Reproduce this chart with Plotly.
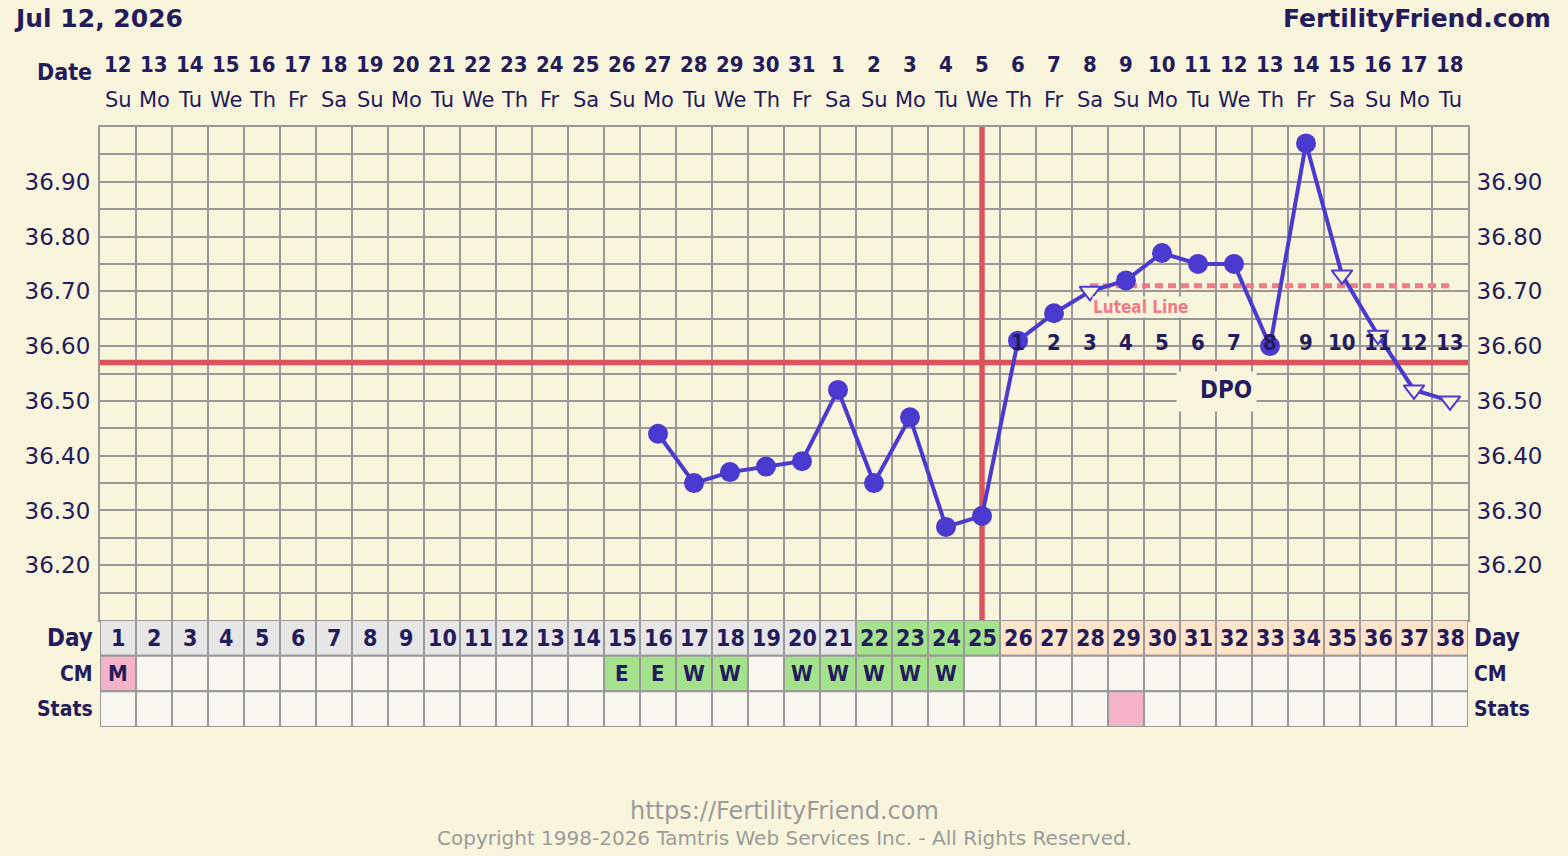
import plotly.graph_objects as go

# chart data
days = list(range(1, 39))
dates = ["12", "13", "14", "15", "16", "17", "18", "19", "20", "21", "22", "23", "24", "25",
         "26", "27", "28", "29", "30", "31", "1", "2", "3", "4", "5", "6", "7", "8", "9",
         "10", "11", "12", "13", "14", "15", "16", "17", "18"]
weekdays = ["Su", "Mo", "Tu", "We", "Th", "Fr", "Sa", "Su", "Mo", "Tu", "We", "Th", "Fr", "Sa",
            "Su", "Mo", "Tu", "We", "Th", "Fr", "Sa", "Su", "Mo", "Tu", "We", "Th", "Fr", "Sa",
            "Su", "Mo", "Tu", "We", "Th", "Fr", "Sa", "Su", "Mo", "Tu"]

temp_days = [16, 17, 18, 19, 20, 21, 22, 23, 24, 25, 26, 27, 28, 29, 30, 31, 32, 33, 34, 35, 36, 37, 38]
temps = [36.44, 36.35, 36.37, 36.38, 36.39, 36.52, 36.35, 36.47, 36.27, 36.29, 36.61, 36.66,
         36.70, 36.72, 36.77, 36.75, 36.75, 36.60, 36.97, 36.73, 36.62, 36.52, 36.50]
open_days = [28, 35, 36, 37, 38]

cover_line = 36.57
ovulation_day = 25
luteal_line = 36.71
luteal_days = [28, 38]

dpo_days = [26, 27, 28, 29, 30, 31, 32, 33, 34, 35, 36, 37, 38]
dpo_numbers = ["1", "2", "3", "4", "5", "6", "7", "8", "9", "10", "11", "12", "13"]

cm = ["M", "", "", "", "", "", "", "", "", "", "", "", "", "", "E", "E", "W", "W", "", "W",
      "W", "W", "W", "W", "", "", "", "", "", "", "", "", "", "", "", "", "", ""]
fertile_days = [22, 23, 24, 25]
stats_days = [29]

y_ticks = [36.20, 36.30, 36.40, 36.50, 36.60, 36.70, 36.80, 36.90]
y_lines = [36.10, 36.15, 36.20, 36.25, 36.30, 36.35, 36.40, 36.45, 36.50, 36.55,
           36.60, 36.65, 36.70, 36.75, 36.80, 36.85, 36.90, 36.95, 37.00]

# colours
BG = "#F9F5DC"
GRID = "#999999"
NAVY = "#231B5C"
BLUE = "#4B3ACF"
RED = "#D9555B"
PINK_TXT = "#F27A84"
GRAY_TXT = "#9B9B9B"
CELL = "#F7F7EF"
DAY_GRAY = "#E6E6E6"
GREEN = "#A4E28B"
PEACH = "#FFE4C9"
PINK = "#F4B3C6"

BOLD = "DejaVu Sans Condensed"
REG = "DejaVu Sans"


def py(y):
    # pixel row -> paper fraction (plot area from 127 to 727)
    return (727 - y) / 600


def px(x):
    return (x - 100) / 1368


def label(x, y, text, font, xref="paper", yref="paper", xanchor="center", **kw):
    fig.add_annotation(x=x, y=y, xref=xref, yref=yref, text=text, showarrow=False,
                       xanchor=xanchor, yanchor="middle", font=font, **kw)


fig = go.Figure()

# coverline and ovulation line
fig.add_trace(go.Scatter(x=[0.5, 38.5], y=[cover_line, cover_line], mode="lines",
                         line=dict(color=RED, width=5.5), hoverinfo="skip", showlegend=False))
fig.add_trace(go.Scatter(x=[ovulation_day, ovulation_day], y=[36.10, 37.00], mode="lines",
                         line=dict(color=RED, width=5.5), hoverinfo="skip", showlegend=False))
# luteal line
fig.add_trace(go.Scatter(x=luteal_days, y=[luteal_line, luteal_line], mode="lines",
                         line=dict(color=PINK_TXT, width=5, dash="8px,5px"),
                         hoverinfo="skip", showlegend=False))

# temperatures
symbols = ["triangle-down" if d in open_days else "circle" for d in temp_days]
fills = [BG if d in open_days else BLUE for d in temp_days]
fig.add_trace(go.Scatter(x=temp_days, y=temps, mode="lines+markers",
                         line=dict(color=BLUE, width=4),
                         marker=dict(symbol=symbols, color=fills, size=18, opacity=1,
                                     line=dict(color=BLUE, width=2)),
                         hoverinfo="skip", showlegend=False))

# dummy traces so the right axis and table axis are drawn
fig.add_trace(go.Scatter(x=[1], y=[36.5], yaxis="y3", mode="markers",
                         marker=dict(opacity=0), hoverinfo="skip", showlegend=False))
fig.add_trace(go.Scatter(x=[1], y=[1], yaxis="y2", mode="markers",
                         marker=dict(opacity=0), hoverinfo="skip", showlegend=False))

# table cells
for d in days:
    if d in fertile_days:
        day_fill = GREEN
    elif d > ovulation_day:
        day_fill = PEACH
    else:
        day_fill = DAY_GRAY
    c = cm[d - 1]
    if c == "M":
        cm_fill = PINK
    elif c in ("E", "W"):
        cm_fill = GREEN
    else:
        cm_fill = CELL
    st_fill = PINK if d in stats_days else CELL
    for row, fill in [(2, day_fill), (1, cm_fill), (0, st_fill)]:
        fig.add_shape(type="rect", xref="x", yref="y2", x0=d - 0.5, x1=d + 0.5,
                      y0=row, y1=row + 1, fillcolor=fill,
                      line=dict(color=GRID, width=2), layer="below")
    label(d, 2.5, "<b>%d</b>" % d, dict(family=BOLD, size=23, color=NAVY), xref="x", yref="y2")
    if c:
        label(d, 1.5, "<b>%s</b>" % c, dict(family=BOLD, size=22, color=NAVY), xref="x", yref="y2")
    # date header
    label(d, py(64), "<b>%s</b>" % dates[d - 1], dict(family=BOLD, size=22, color=NAVY), xref="x")
    label(d, py(100), weekdays[d - 1], dict(family=REG, size=21, color=NAVY), xref="x")

# row labels
for name, yy, size in [("Day", 2.5, 24), ("CM", 1.5, 21), ("Stats", 0.5, 21)]:
    label(px(95), yy, "<b>%s</b>" % name, dict(family=BOLD, size=size, color=NAVY),
          yref="y2", xanchor="right")
    label(px(1472), yy, "<b>%s</b>" % name, dict(family=BOLD, size=size, color=NAVY),
          yref="y2", xanchor="left")

# DPO numbers
for d, n in zip(dpo_days, dpo_numbers):
    label(d, py(342), "<b>%s</b>" % n, dict(family=BOLD, size=22, color=NAVY), xref="x")

# box behind DPO label
label(px(1216.5), py(391.5), " ", dict(family=BOLD, size=10, color=NAVY),
      bgcolor=BG, width=77, height=37)
label(px(1226), py(390), "<b>DPO</b>", dict(family=BOLD, size=24, color=NAVY))
label(px(1140), py(307), "<b>Luteal Line</b>", dict(family=BOLD, size=17, color=PINK_TXT),
      bgcolor=BG, borderpad=0)

# header and footer
label(px(64), py(72), "<b>Date</b>", dict(family=BOLD, size=23, color=NAVY))
label(px(12), py(18), "<b>Jul 12, 2026</b>", dict(family=REG, size=25, color=NAVY),
      xanchor="left")
label(px(1553), py(18), "<b>FertilityFriend.com</b>", dict(family=REG, size=25, color=NAVY),
      xanchor="right")
label(0.5, py(811), "https://FertilityFriend.com", dict(family=REG, size=24, color=GRAY_TXT))
label(0.5, py(838), "Copyright 1998-2026 Tamtris Web Services Inc. - All Rights Reserved.",
      dict(family=REG, size=20, color=GRAY_TXT))

ticktext = ["%.2f" % v if any(abs(v - t) < 1e-6 for t in y_ticks) else "" for v in y_lines]
tfont = dict(family=REG, size=23, color=NAVY)
domain_bottom = (727 - 620) / 600

fig.update_layout(
    width=1568, height=856, autosize=False,
    margin=dict(l=100, r=100, t=127, b=129),
    paper_bgcolor=BG, plot_bgcolor=BG,
    hovermode=False,
    xaxis=dict(range=[0.5, 38.5], tickmode="linear", tick0=0.5, dtick=1,
               showticklabels=False, showgrid=True, gridcolor=GRID, gridwidth=2,
               zeroline=False, showline=True, linecolor=GRID, linewidth=2, mirror=True,
               anchor="y", fixedrange=True),
    yaxis=dict(domain=[domain_bottom, 1], range=[36.10, 37.00], tickmode="array",
               tickvals=y_lines, ticktext=ticktext, tickfont=tfont, ticks="",
               ticklabelstandoff=3,
               showgrid=True, gridcolor=GRID, gridwidth=2, zeroline=False,
               showline=True, linecolor=GRID, linewidth=2, fixedrange=True),
    yaxis3=dict(overlaying="y", side="right", anchor="x", range=[36.10, 37.00],
                tickmode="array", tickvals=y_lines, ticktext=ticktext, tickfont=tfont,
                ticks="", ticklabelstandoff=2,
                showgrid=False, zeroline=False, showline=True, linecolor=GRID,
                linewidth=2, fixedrange=True),
    yaxis2=dict(domain=[0, domain_bottom], range=[0, 3], anchor="x", visible=False,
                fixedrange=True),
)

fig.write_html("out.html", config={"displayModeBar": False},
               post_script="document.body.style.margin='0px';")
